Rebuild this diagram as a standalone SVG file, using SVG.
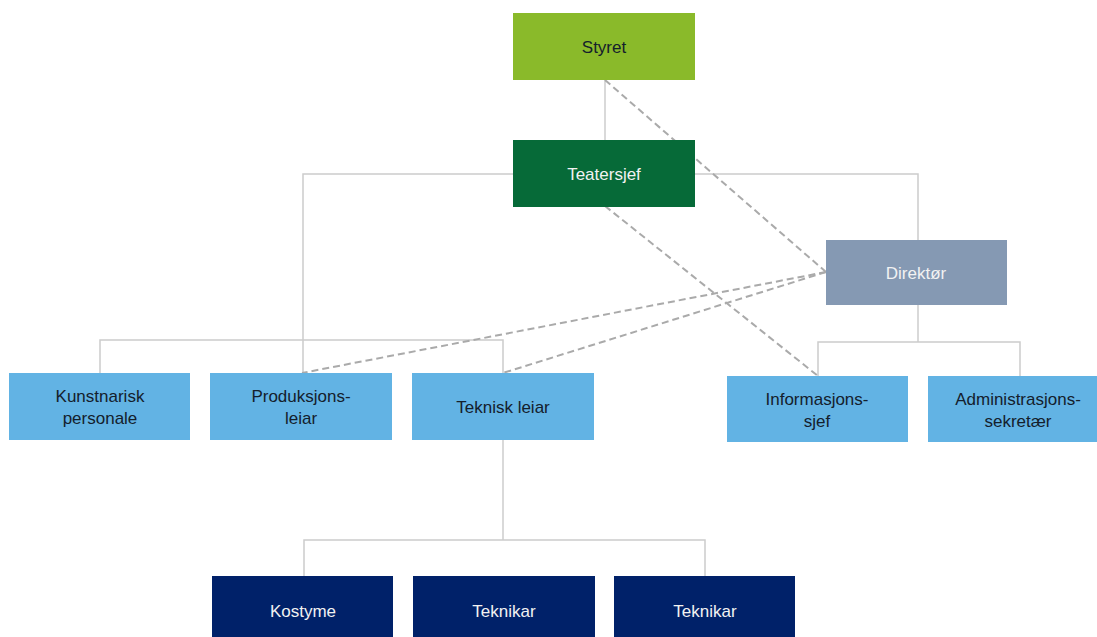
<svg xmlns="http://www.w3.org/2000/svg" width="1097" height="637" viewBox="0 0 1097 637">
<style>
.lbl{font-family:"Liberation Sans",Arial,sans-serif;font-size:17px;text-anchor:middle}
.dark{fill:#14202c}
.light{fill:#f2f2f2}
.solid{fill:none;stroke:#cccccc;stroke-width:1.5}
.dash{fill:none;stroke:#aaaaaa;stroke-width:2;stroke-dasharray:7,4}
.lb{fill:#62b3e4}
.nv{fill:#002169}
</style>
<rect width="1097" height="637" fill="#ffffff"/>
<g id="connectors">
<path class="solid" d="M605,80V140"/>
<path class="solid" d="M513,174H303V373"/>
<path class="solid" d="M100,373V340H503V373"/>
<path class="solid" d="M695,174H918V240"/>
<path class="solid" d="M918,305V342"/>
<path class="solid" d="M818,376V342H1020V376"/>
<path class="solid" d="M503,440V540"/>
<path class="solid" d="M304,576V540H705V576"/>
<path class="dash" d="M605,80L826,272"/>
<path class="dash" d="M605,206L818,376"/>
<path class="dash" d="M826,272L302,373"/>
<path class="dash" d="M826,272L503,373"/>
</g>
<g id="styret"><rect x="513" y="13" width="182" height="67" fill="#8aba2a"/><text class="lbl dark" x="604" y="53">Styret</text></g>
<g id="teatersjef"><rect x="513" y="140" width="182" height="67" fill="#066a38"/><text class="lbl light" x="604" y="180">Teatersjef</text></g>
<g id="direktor"><rect x="826" y="240" width="181" height="65" fill="#8599b3"/><text class="lbl light" x="916" y="279">Direktør</text></g>
<g id="kunstnarisk"><rect class="lb" x="9" y="373" width="181" height="67"/><text class="lbl dark" x="100" y="402">Kunstnarisk</text><text class="lbl dark" x="100" y="424">personale</text></g>
<g id="produksjonsleiar"><rect class="lb" x="210" y="373" width="182" height="67"/><text class="lbl dark" x="301" y="402">Produksjons-</text><text class="lbl dark" x="301" y="424">leiar</text></g>
<g id="teknisk"><rect class="lb" x="412" y="373" width="182" height="67"/><text class="lbl dark" x="503" y="413">Teknisk leiar</text></g>
<g id="informasjonssjef"><rect class="lb" x="727" y="376" width="181" height="66"/><text class="lbl dark" x="817" y="405">Informasjons-</text><text class="lbl dark" x="817" y="427">sjef</text></g>
<g id="administrasjon"><rect class="lb" x="928" y="376" width="181" height="66"/><text class="lbl dark" x="1018" y="405">Administrasjons-</text><text class="lbl dark" x="1018" y="427">sekretær</text></g>
<g id="kostyme"><rect class="nv" x="212" y="576" width="181" height="70"/><text class="lbl light" x="303" y="617">Kostyme</text></g>
<g id="teknikar1"><rect class="nv" x="413" y="576" width="182" height="70"/><text class="lbl light" x="504" y="617">Teknikar</text></g>
<g id="teknikar2"><rect class="nv" x="614" y="576" width="181" height="70"/><text class="lbl light" x="705" y="617">Teknikar</text></g>
</svg>
